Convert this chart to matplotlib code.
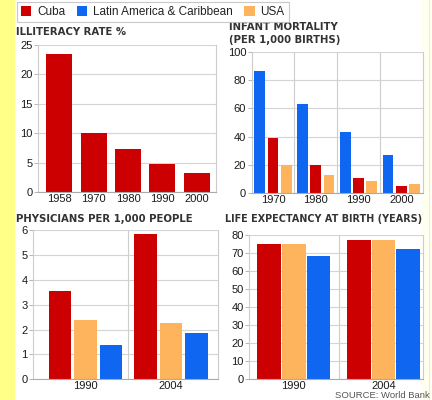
import numpy as np
import matplotlib.pyplot as plt
from matplotlib.patches import Rectangle

# colours
RED = '#cc0000'
BLUE = '#0f66f0'
ORANGE = '#fdb45c'

# illiteracy (Cuba only)
lit_years = ['1958', '1970', '1980', '1990', '2000']
lit_cuba = [23.4, 10.0, 7.4, 4.8, 3.2]

# infant mortality per 1,000 births
inf_years = ['1970', '1980', '1990', '2000']
inf_latam = [86.5, 63, 43.5, 27]
inf_cuba = [39.3, 20, 10.6, 5.5]
inf_usa = [20, 12.7, 8.7, 6.6]

# physicians per 1,000 people
phy_years = ['1990', '2004']
phy_cuba = [3.56, 5.84]
phy_usa = [2.38, 2.26]
phy_latam = [1.38, 1.87]

# life expectancy at birth
life_years = ['1990', '2004']
life_cuba = [75, 77.3]
life_usa = [75, 77.3]
life_latam = [68.4, 72.3]

W, H = 432, 400
fig = plt.figure(figsize=(W / 100, H / 100), dpi=100)
fig.patch.set_facecolor('white')

TICKFONT = dict(family='Liberation Sans', size=8, color='#1a1a1a')
TITLEFONT = dict(family='DejaVu Sans', weight='bold', size=7.3, color='#333333')


def px_axes(left, top, right, bottom):
    return fig.add_axes([left / W, 1 - bottom / H, (right - left) / W, (bottom - top) / H])


def style(ax, ymax, ystep, xlim, dividers):
    ax.set_ylim(0, ymax)
    ax.set_xlim(*xlim)
    ax.set_yticks(np.arange(0, ymax + 0.01, ystep))
    ax.grid(axis='y', color='#d4d4d4', linewidth=0.8)
    ax.set_axisbelow(True)
    ax.spines['top'].set_visible(False)
    for s in ['left', 'right']:
        ax.spines[s].set_color('#cccccc')
        ax.spines[s].set_linewidth(0.8)
    ax.spines['bottom'].set_color('#aaaaaa')
    ax.spines['bottom'].set_linewidth(0.8)
    for d in dividers:
        ax.axvline(d, color='#cccccc', linewidth=0.8, zorder=0)
    ax.tick_params(axis='y', length=3, width=0.6, color='#aaaaaa', pad=1)
    ax.tick_params(axis='x', length=0, pad=1.5)
    for lab in ax.get_yticklabels() + ax.get_xticklabels():
        lab.set_fontfamily(TICKFONT['family'])
        lab.set_fontsize(TICKFONT['size'])
        lab.set_color(TICKFONT['color'])


# yellow strips at the sides
fig.add_artist(Rectangle((0, 0), 15 / W, 1, transform=fig.transFigure,
                         facecolor='#ffff88', edgecolor='none', zorder=0))
fig.add_artist(Rectangle((421 / W, 0), 11 / W, 1, transform=fig.transFigure,
                         facecolor='#fffff0', edgecolor='none', zorder=0))
fig.add_artist(Rectangle((428.5 / W, 0), 1 / W, 1, transform=fig.transFigure,
                         facecolor='#f5f0a0', edgecolor='none', zorder=0))

# panel 1: illiteracy
ax1 = px_axes(38.3, 45, 216, 192.3)
x = np.arange(len(lit_years))
b_cuba = ax1.bar(x, lit_cuba, width=0.76, color=RED, label='Cuba')
ax1.set_xticks(x, lit_years)
style(ax1, 25, 5, (-0.61, 4.56), [])
fig.text(16 / W, 1 - 32 / H, 'ILLITERACY RATE %', va='center', ha='left', **TITLEFONT)

# panel 2: infant mortality
ax2 = px_axes(251.7, 51.6, 422.7, 193.3)
x = np.arange(len(inf_years))
bw = 0.25
b_latam = ax2.bar(x - 0.31, inf_latam, width=bw, color=BLUE, label='Latin America & Caribbean')
ax2.bar(x, inf_cuba, width=bw, color=RED)
b_usa = ax2.bar(x + 0.31, inf_usa, width=bw, color=ORANGE, label='USA')
ax2.set_xticks(x, inf_years)
style(ax2, 100, 20, (-0.5, 3.5), [0.5, 1.5, 2.5])
fig.text(229 / W, 1 - 26.5 / H, 'INFANT MORTALITY', va='center', ha='left', **TITLEFONT)
fig.text(229 / W, 1 - 40 / H, '(PER 1,000 BIRTHS)', va='center', ha='left', **TITLEFONT)

# panel 3: physicians
ax3 = px_axes(33, 230, 217.7, 379.3)
x = np.arange(len(phy_years))
bw = 0.265
ax3.bar(x - 0.30, phy_cuba, width=bw, color=RED)
ax3.bar(x, phy_usa, width=bw, color=ORANGE)
ax3.bar(x + 0.30, phy_latam, width=bw, color=BLUE)
ax3.set_xticks(x, phy_years)
style(ax3, 6, 1, (-0.614, 1.546), [0.5])
fig.text(16 / W, 1 - 218.5 / H, 'PHYSICIANS PER 1,000 PEOPLE', va='center', ha='left', **TITLEFONT)

# panel 4: life expectancy
ax4 = px_axes(249.3, 235, 422.7, 379.3)
x = np.arange(len(life_years))
bw = 0.262
ax4.bar(x - 0.275, life_cuba, width=bw, color=RED)
ax4.bar(x, life_usa, width=bw, color=ORANGE)
ax4.bar(x + 0.275, life_latam, width=bw, color=BLUE)
ax4.set_xticks(x, life_years)
style(ax4, 80, 10, (-0.496, 1.437), [0.5])
fig.text(225 / W, 1 - 218.5 / H, 'LIFE EXPECTANCY AT BIRTH (YEARS)', va='center', ha='left',
         **dict(TITLEFONT, size=6.9))

# legend
leg = fig.legend(handles=[b_cuba, b_latam, b_usa],
                 labels=['Cuba', 'Latin America & Caribbean', 'USA'],
                 loc='upper left', bbox_to_anchor=(17 / W, 1 - 2 / H), ncol=3,
                 frameon=True, fancybox=False, edgecolor='#bbbbbb',
                 handlelength=0.85, handleheight=0.85, handletextpad=0.5,
                 columnspacing=1.0, borderpad=0.35, borderaxespad=0,
                 prop={'family': 'Liberation Sans', 'size': 8.5})
leg.get_frame().set_linewidth(0.8)
for t in leg.get_texts():
    t.set_color('#222222')

fig.text(430 / W, 1 - 395.5 / H, 'SOURCE: World Bank', ha='right', va='center',
         family='Liberation Sans', size=6.8, color='#555555')

fig.savefig('out.png', dpi=100, facecolor='white')
